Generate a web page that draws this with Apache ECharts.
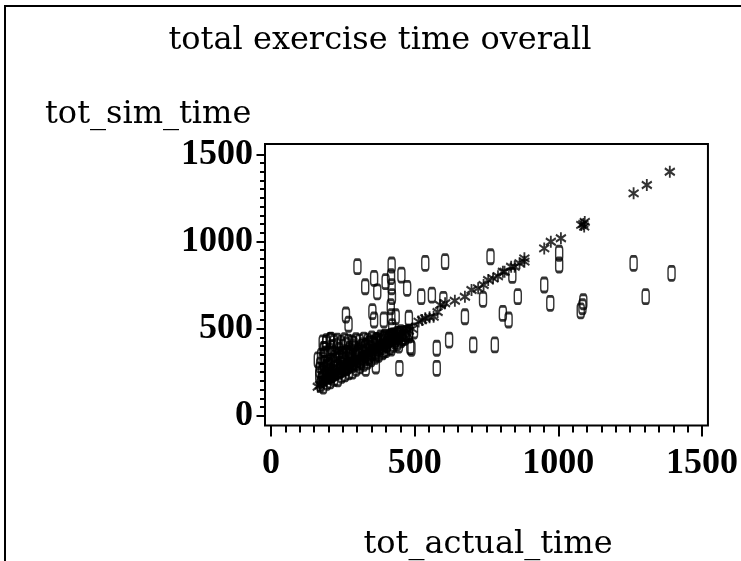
<!DOCTYPE html>
<html>
<head>
<meta charset="utf-8">
<script src="https://cdn.jsdelivr.net/npm/echarts@6/dist/echarts.min.js"></script>
<style>
html,body{margin:0;padding:0;background:#fff;}
#chart{width:741px;height:561px;}
</style>
</head>
<body>
<div id="chart"></div>
<script>
// ---- text ----
var titleText = 'total exercise time overall';
var yName = 'tot_sim_time';
var xName = 'tot_actual_time';

// ---- tick labels ----
var xMajorTicks = [0, 500, 1000, 1500];
var yMajorTicks = [0, 500, 1000, 1500];
var minorStep = 50;

// ---- series "0": observed points (tot_actual_time, tot_sim_time) ----
var obsX = [
  301, 420, 537, 606, 764, 328, 359, 370, 399, 454, 474,
  523, 560, 600, 738, 859, 840, 951, 972, 1003, 1003, 1078, 1084, 1087,
  1262, 1394, 1304, 807, 827, 675, 577, 620, 704, 779,
  577, 447, 489, 365, 330, 261, 270, 353, 359,
  393, 434, 480, 485, 418, 420, 421, 417, 419, 422, 416, 163, 192, 209, 186,
  // dense cluster
  172, 168, 171, 174, 169,
  182, 181, 184, 180, 183, 185,
  195, 194, 197, 193, 196,
  207, 206, 209, 205, 208,
  220, 219, 222, 218, 221,
  233, 232, 235, 231,
  246, 245, 248, 244,
  258, 257, 260, 256,
  271, 270, 273, 269,
  284, 283, 286, 282,
  297, 296, 299,
  310, 309, 312,
  323, 322, 325,
  336, 335, 338,
  349, 348, 351,
  362, 361, 364,
  375, 374, 377,
  388, 387,
  401, 400, 403,
  414, 413,
  427, 426,
  440, 439,
  453, 452,
  466, 480,
  // upper row of the cluster
  180, 193, 206, 219, 231, 244, 256, 269, 283, 296, 309, 323, 337, 351, 366, 381, 396, 411, 429, 446, 463, 481, 498,
  // extra cluster fill
  176, 188, 200, 212, 225, 238, 250, 263, 276, 289, 302, 315, 328, 341, 354, 367, 380, 393, 406, 419, 432, 445, 458, 471,
  187, 199, 211, 224, 237, 250, 262, 275, 288, 301, 314, 327, 340, 353, 366, 379, 392, 405, 418, 431, 444, 457, 470,
  178, 191, 203, 216, 229, 241, 254, 267, 280, 293, 306, 319, 332, 345, 358, 371, 384, 397, 410, 423, 436, 449
];
var obsY = [
  855, 865, 874, 884, 912, 740, 788, 711, 769, 807, 731,
  683, 692, 668, 668, 683, 805, 750, 645, 932, 865, 602, 625, 654,
  874, 817, 683, 587, 549, 568, 387, 434, 406, 406,
  272, 272, 387, 285, 272, 578, 525, 597, 549,
  549, 568, 559, 396, 798, 740, 683, 625, 568, 511, 453, 320, 415, 434, 380,
  // dense cluster
  180, 230, 290, 340, 262,
  170, 215, 262, 320, 380, 300,
  192, 240, 300, 355, 275,
  200, 255, 312, 370, 228,
  215, 268, 330, 390, 245,
  212, 280, 345, 400,
  232, 292, 352, 262,
  240, 300, 362, 272,
  252, 316, 380, 285,
  256, 326, 392, 290,
  272, 336, 302,
  286, 346, 318,
  300, 362, 330,
  312, 372, 342,
  326, 386, 355,
  340, 402, 370,
  352, 412, 382,
  366, 396,
  380, 432, 408,
  396, 445,
  410, 456,
  420, 466,
  436, 476,
  450, 462,
  // upper row of the cluster
  418, 425, 432, 420, 428, 415, 430, 422, 418, 430, 424, 434, 428, 440, 432, 446, 450, 442, 456, 465, 470, 480, 486,
  // extra cluster fill
  205, 230, 250, 235, 290, 255, 320, 275, 345, 300, 360, 310, 395, 335, 410, 355, 420, 375, 428, 388, 440, 405, 448, 470,
  350, 285, 390, 355, 375, 395, 405, 352, 410, 370, 392, 388, 410, 362, 425, 395, 440, 412, 452, 430, 455, 446, 472,
  248, 268, 285, 302, 318, 334, 342, 358, 366, 382, 378, 402, 398, 418, 412, 432, 426, 446, 440, 458, 452, 468
];

// ---- series "*": predicted points (tot_actual_time, tot_sim_time) ----
var predX = [
  163, 170, 178, 186, 192, 198, 205, 210, 215, 220, 226, 232, 238, 243, 250, 255,
  260, 266, 272, 278, 284, 290, 296, 302, 310, 318, 325, 332, 340, 348, 355, 362,
  370, 378, 386, 394, 402, 410, 420, 430, 440, 450, 460, 470, 480, 492,
  514, 526, 537, 552, 566, 580, 589, 606, 640, 675, 698, 721, 740, 756, 773, 790,
  807, 813, 836, 848, 865, 882, 882, 951, 974, 1009, 1080, 1087, 1092, 1090,
  1262, 1308, 1388
];
var predY = [
  166, 175, 190, 205, 198, 210, 215, 222, 225, 230, 236, 240, 248, 252, 258, 262,
  270, 275, 280, 286, 292, 298, 305, 310, 318, 325, 332, 340, 348, 356, 362, 370,
  378, 386, 394, 400, 410, 418, 428, 438, 448, 458, 468, 478, 488, 498,
  540, 549, 559, 565, 568, 595, 635, 645, 660, 683, 721, 731, 750, 779, 788, 800,
  826, 826, 855, 855, 875, 884, 903, 960, 998, 1018, 1095, 1100, 1112, 1085,
  1276, 1324, 1400
];

function pairs(xs, ys) {
  var out = [];
  for (var i = 0; i < xs.length; i++) out.push([xs[i], ys[i]]);
  return out;
}
function minorList(maxV) {
  var out = [];
  for (var v = 0; v <= maxV; v += minorStep) out.push(v);
  return out;
}
function plain(v) { return String(Math.round(v)); }

var X_MIN = -20.7, X_MAX = 1520.7;
var Y_MIN = -56.2, Y_MAX = 1559.1;
var digitFont = {fontFamily: '"Liberation Serif", serif', fontSize: 36, fontWeight: 'bold', color: '#000'};
var textFont = '"DejaVu Serif", serif';

var chart = echarts.init(document.getElementById('chart'), null, {renderer: 'canvas'});
var starPath = 'path://M5,0 L5,12 M0,2.5 L10,9.5 M10,2.5 L0,9.5';

chart.setOption({
  animation: false,
  backgroundColor: '#fff',
  grid: {left: 265, top: 144, width: 446.7, height: 281.5, show: true,
         borderColor: '#000', borderWidth: 2, backgroundColor: 'transparent'},
  xAxis: [
    {type: 'value', min: X_MIN, max: X_MAX, position: 'bottom',
     axisLine: {show: false, onZero: false}, splitLine: {show: false},
     axisTick: {show: true, inside: false, length: 11, customValues: xMajorTicks,
                lineStyle: {color: '#000', width: 2}},
     axisLabel: Object.assign({show: true, customValues: xMajorTicks, margin: 20, formatter: plain}, digitFont)},
    {type: 'value', min: X_MIN, max: X_MAX, position: 'bottom',
     axisLine: {show: false, onZero: false}, splitLine: {show: false},
     axisTick: {show: true, inside: false, length: 7, customValues: minorList(1500),
                lineStyle: {color: '#000', width: 2}},
     axisLabel: {show: false}}
  ],
  yAxis: [
    {type: 'value', min: Y_MIN, max: Y_MAX, position: 'left',
     axisLine: {show: false, onZero: false}, splitLine: {show: false},
     axisTick: {show: true, inside: false, length: 8.5, customValues: yMajorTicks,
                lineStyle: {color: '#000', width: 2}},
     axisLabel: Object.assign({show: true, customValues: yMajorTicks, margin: 12, formatter: plain}, digitFont)},
    {type: 'value', min: Y_MIN, max: Y_MAX, position: 'left',
     axisLine: {show: false, onZero: false}, splitLine: {show: false},
     axisTick: {show: true, inside: false, length: 5, customValues: minorList(1500),
                lineStyle: {color: '#000', width: 2}},
     axisLabel: {show: false}}
  ],
  series: [
    {type: 'scatter', name: '0', xAxisIndex: 0, yAxisIndex: 0,
     data: pairs(obsX, obsY), symbol: 'roundRect', symbolSize: [7, 14],
     itemStyle: {color: 'rgba(255,255,255,0)', borderColor: '#000', borderWidth: 2},
     emphasis: {disabled: true}, silent: true},
    {type: 'scatter', name: '*', xAxisIndex: 0, yAxisIndex: 0,
     data: pairs(predX, predY), symbol: starPath, symbolSize: [10, 12],
     itemStyle: {color: 'rgba(0,0,0,0)', borderColor: '#000', borderWidth: 2},
     emphasis: {disabled: true}, silent: true}
  ],
  graphic: [
    {type: 'rect', shape: {x: 5, y: 6, width: 1000, height: 1000},
     style: {fill: 'none', stroke: '#000', lineWidth: 2}, silent: true},
    {type: 'text', x: 380, y: 57,
     style: {text: titleText, font: '32px ' + textFont, fill: '#000',
             textAlign: 'center', textVerticalAlign: 'bottom'}},
    {type: 'text', x: 45, y: 131,
     style: {text: yName, font: '32px ' + textFont, fill: '#000',
             textAlign: 'left', textVerticalAlign: 'bottom'}},
    {type: 'text', x: 488, y: 561,
     style: {text: xName, font: '32px ' + textFont, fill: '#000',
             textAlign: 'center', textVerticalAlign: 'bottom'}}
  ]
});
</script>
</body>
</html>
